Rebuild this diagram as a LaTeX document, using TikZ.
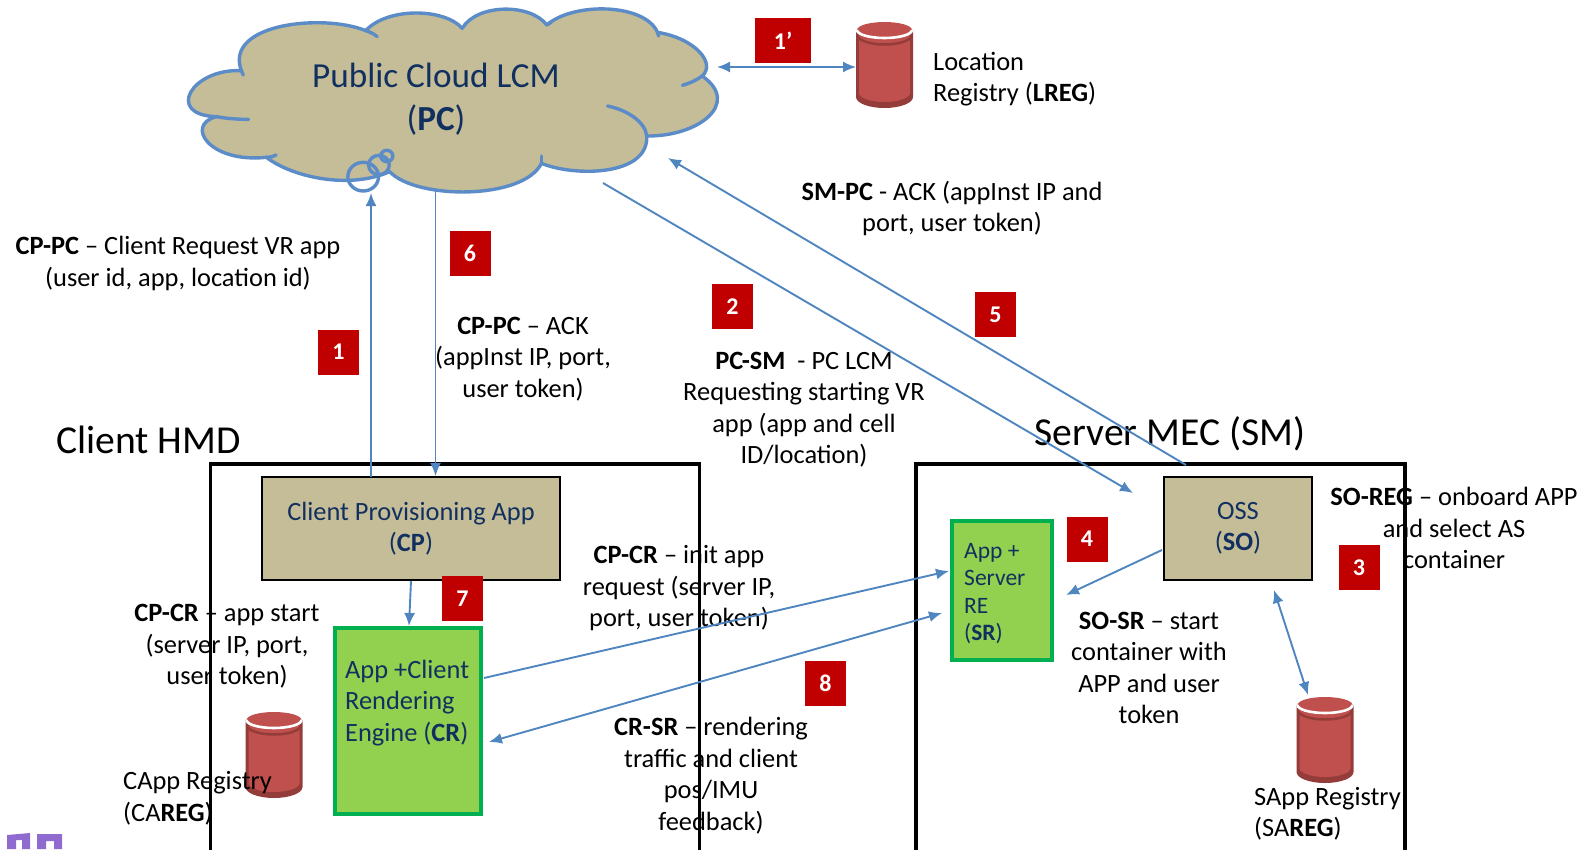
\documentclass[tikz,border=0pt]{standalone}
\usepackage{fontspec}
\setmainfont{Carlito}
\usetikzlibrary{arrows.meta}
\definecolor{tan}{HTML}{C4BD97}
\definecolor{cloudline}{HTML}{5B8CC8}
\definecolor{arrowblue}{HTML}{4F86C0}
\definecolor{navy}{HTML}{12305F}
\definecolor{limefill}{HTML}{92D050}
\definecolor{limeline}{HTML}{00B050}
\definecolor{badge}{HTML}{C00000}
\definecolor{cyl}{HTML}{C0504D}
\definecolor{cyldark}{HTML}{943C39}
\definecolor{logo}{HTML}{8F6BD0}
\newcommand{\cylinder}[3]{% name, centre x, centre y
  \node[minimum width=57pt,minimum height=86pt,inner sep=0pt,outer sep=0pt] (#1) at (#2,#3) {};
  \begin{scope}[shift={(#2,#3)}]
    \fill[cyldark] (-28.5,-35) -- (-28.5,32) arc[x radius=28.5,y radius=11,start angle=180,end angle=0] -- (28.5,-35) -- cycle;
    \fill[cyl] (-25.5,-30) -- (-25.5,28) arc[x radius=25.5,y radius=9,start angle=180,end angle=0] -- (25.5,-30) -- cycle;
    \draw[cyldark,line width=2.5pt] (-27,-30) arc[x radius=27,y radius=9.5,start angle=180,end angle=0];
    \fill[cyl] (0,-35) ellipse[x radius=27.5,y radius=8];
    \draw[white,line width=2.6pt] (-27.5,-35) arc[x radius=27.5,y radius=8,start angle=180,end angle=0];
  \end{scope}}
\tikzset{
  every node/.style={font=\fontsize{26.4}{31.5}\selectfont},
  lbl/.style={align=center,inner sep=0pt,text=black},
  lbll/.style={align=left,inner sep=0pt,text=black,anchor=west},
  numbox/.style={fill=badge,text=white,inner sep=0pt,minimum width=41pt,minimum height=45pt,font=\fontsize{24}{24}\selectfont\bfseries},
  frame/.style={draw=black,line width=3.6pt},
  tanbox/.style={draw=black,line width=1.6pt,fill=tan,text=navy,align=center,inner sep=0pt},
  greenbox/.style={draw=limeline,line width=3.4pt,fill=limefill,text=navy,align=left,inner sep=0pt},
  conn/.style={draw=arrowblue,line width=1.9pt,-{Latex[length=13pt,width=11pt]}},
  connb/.style={draw=arrowblue,line width=1.9pt,{Latex[length=13pt,width=11pt]}-{Latex[length=13pt,width=11pt]}},
  cloudstroke/.style={draw=cloudline,line width=3.4pt,line cap=round,line join=round}
}
\begin{document}
\begin{tikzpicture}[x=1pt,y=-1pt]
\useasboundingbox (0,0) rectangle (1592,849);
\begin{scope}
\clip (0,0) rectangle (1592,849);
% cloud
\begin{scope}[shift={(170,0)},x=0.35714pt,y=-0.3333pt]
\path[fill=tan,cloudstroke]
 (200,212) .. controls (60,205) and (-15,345) .. (130,350)
 .. controls (40,375) and (110,490) .. (270,472)
 .. controls (340,530) and (500,570) .. (615,515)
 .. controls (690,600) and (990,600) .. (1040,490)
 .. controls (1130,530) and (1340,530) .. (1335,408)
 .. controls (1480,410) and (1600,310) .. (1490,228)
 .. controls (1530,190) and (1470,115) .. (1365,97)
 .. controls (1330,10) and (1130,5) .. (1055,75)
 .. controls (1010,10) and (860,10) .. (818,85)
 .. controls (770,25) and (610,20) .. (548,92)
 .. controls (430,40) and (150,70) .. (200,212) -- cycle;
\draw[cloudstroke] (130,350) .. controls (160,356) and (190,358) .. (220,358);
\draw[cloudstroke] (270,472) .. controls (280,472) and (290,470) .. (297,465);
\draw[cloudstroke] (548,92) .. controls (560,96) and (572,102) .. (580,110);
\draw[cloudstroke] (1040,490) -- (1040,468);
\draw[cloudstroke] (1335,408) .. controls (1330,365) and (1280,330) .. (1225,318);
\draw[cloudstroke] (1490,228) .. controls (1475,240) and (1455,250) .. (1435,256);
\draw[cloudstroke] (1365,97) -- (1368,108);
\draw[cloudstroke] (200,212) -- (205,225);
\draw[cloudstroke] (1055,75) -- (1068,66);
\draw[cloudstroke] (541,530) circle[radius=43];
\draw[cloudstroke] (585,495) circle[radius=29];
\draw[cloudstroke] (607,468) circle[radius=17];
\end{scope}
\node[inner sep=0pt,outer sep=0pt,minimum width=530pt,minimum height=170pt] (pc) at (455,95) {};
\node[align=center,text=navy,inner sep=0pt,font=\fontsize{35.2}{42.6}\selectfont] (pctext) at (436,99) {Public Cloud LCM\\(\textbf{PC})};
% cylinders
\cylinder{lreg}{884.5}{65}
\cylinder{careg}{274}{755}
\cylinder{sareg}{1325}{740}
% labels drawn under the frames
\node[lbl] (t1) at (178,263.5) {\textbf{CP-PC} – Client Request VR app\\(user id, app, location id)};
\node[lbl] (t2) at (523,359) {\textbf{CP-PC} – ACK\\(appInst IP, port,\\user token)};
\node[lbl] (t3) at (804,409.6) {\textbf{PC-SM}\ \ - PC LCM\\Requesting starting VR\\app (app and cell\\ID/location)};
\node[lbl] (t4) at (952,208.6) {\textbf{SM-PC} - ACK (appInst IP and\\port, user token)};
\node[lbl] (t5) at (1454,528) {\textbf{SO-REG} – onboard APP\\and select AS\\container};
\node[lbl] (t6) at (1149,668) {\textbf{SO-SR} – start\\container with\\APP and user\\token};
\node[lbl] (t7) at (711,775.5) {\textbf{CR-SR} – rendering\\traffic and client\\pos/IMU\\feedback)};
\node[lbl] (t8) at (679,588.5) {\textbf{CP-CR} – init app\\request (server IP,\\port, user token)};
\node[lbl] (t9) at (227,646.5) {\textbf{CP-CR} – app start\\(server IP, port,\\user token)};
\node[lbll] (t10) at (933,79) {Location\\Registry (\textbf{LREG})};
\node[lbll] (t11) at (123,798) {CApp Registry\\(CA\textbf{REG})};
\node[lbll] (t12) at (1254,813.7) {SApp Registry\\(SA\textbf{REG})};
\node[lbll,font=\fontsize{39.6}{44}\selectfont] (hmd) at (56,440) {Client HMD};
\node[lbl,font=\fontsize{39.6}{44}\selectfont] (mec) at (1170,433.5) {Server MEC (SM)};
% frames
\node[frame,minimum width=489pt,minimum height=400pt,inner sep=0pt] (client) at (455,664) {};
\node[frame,minimum width=489pt,minimum height=400pt,inner sep=0pt] (server) at (1160.5,664) {};
% boxes
\node[tanbox,minimum width=298pt,minimum height=103pt] (cp) at (411,528.5) {Client Provisioning App\\(\textbf{CP})};
\node[tanbox,minimum width=148pt,minimum height=103pt] (so) at (1238,528.5) {OSS\\(\textbf{SO})};
\node[greenbox,minimum width=146pt,minimum height=186pt] (cr) at (408,721) {};
\node[anchor=west,align=left,text=navy,inner sep=0pt] (crtext) at (345,702.6) {App +Client\\Rendering\\Engine (\textbf{CR})};
\node[greenbox,minimum width=100pt,minimum height=139pt] (sr) at (1002,590.5) {};
\node[anchor=west,align=left,text=navy,inner sep=0pt,font=\fontsize{23.5}{27.5}\selectfont] (srtext) at (964,593.5) {App +\\Server\\RE\\(\textbf{SR})};
% badges
\node[numbox,minimum width=56pt] (b1p) at (783,40.5) {1’};
\node[numbox] (b6) at (470,253.5) {6};
\node[numbox] (b1) at (338.5,352) {1};
\node[numbox] (b2) at (732.5,306.5) {2};
\node[numbox] (b5) at (995.5,314.5) {5};
\node[numbox] (b4) at (1087,539) {4};
\node[numbox] (b3) at (1359,567.5) {3};
\node[numbox] (b7) at (462.5,598.5) {7};
\node[numbox] (b8) at (825.5,683.5) {8};
% connector end points
\coordinate (p1) at (371,193);
\coordinate (p1s) at (371,477);
\coordinate (p6) at (435.5,191);
\coordinate (p6e) at (435.5,476);
\coordinate (pl) at (717,67);
\coordinate (ll) at (856,67);
\coordinate (pm) at (603,183);
\coordinate (so1) at (1133,493);
\coordinate (so2) at (1186,465);
\coordinate (pm2) at (668,158);
\coordinate (cp1) at (411,581);
\coordinate (cr1) at (409,626);
\coordinate (cr2) at (484,678);
\coordinate (sr1) at (949,571);
\coordinate (sr2) at (942,613);
\coordinate (cr3) at (489,742);
\coordinate (so3) at (1162,550);
\coordinate (sr3) at (1066,595);
\coordinate (so4) at (1274,590);
\coordinate (sa4) at (1308,695);
% connectors
\draw[conn] (p1s) -- (p1);
\draw[conn] (p6) -- (p6e);
\draw[connb] (pl) -- (ll);
\draw[conn] (pm) -- (so1);
\draw[conn] (so2) -- (pm2);
\draw[conn] (cp1) -- (cr1);
\draw[conn] (cr2) -- (sr1);
\draw[connb] (sr2) -- (cr3);
\draw[conn] (so3) -- (sr3);
\draw[connb] (so4) -- (sa4);
% cropped logo fragment
\path[fill=logo] (7,835) -- (30,833) -- (30,849) -- (22,849) -- (22,840) -- (16,840) -- (16,849) -- (7,849) -- cycle;
\path[fill=logo] (37,834) -- (62,834) -- (62,849) -- (54,849) -- (54,841) -- (46,841) -- (46,849) -- (37,849) -- cycle;
\end{scope}
\end{tikzpicture}
\end{document}
